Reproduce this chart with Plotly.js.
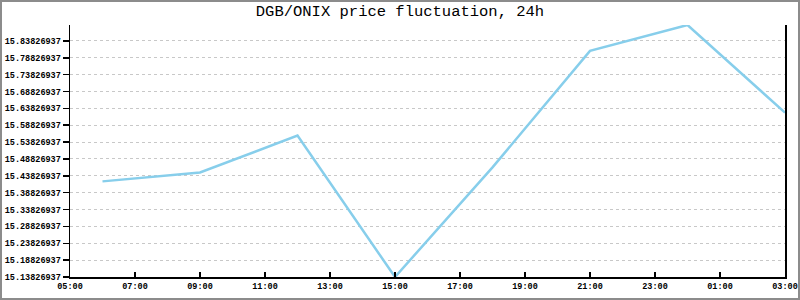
<!DOCTYPE html>
<html><head><meta charset="utf-8">
<script src="https://cdn.plot.ly/plotly-3.0.1.min.js"></script>
<style>
html,body{margin:0;padding:0;background:#fff;}
#chart{width:800px;height:300px;box-sizing:border-box;border:2px solid #8c8c8c;}
</style></head>
<body><div id="chart"></div>
<script>
const times = ['2024-01-01 06:00','2024-01-01 09:00','2024-01-01 12:00','2024-01-01 15:00','2024-01-01 18:00','2024-01-01 21:00','2024-01-02 00:00','2024-01-02 03:00'];
const prices = [15.4218, 15.4480, 15.5577, 15.13826937, 15.4632, 15.8087, 15.8855, 15.6256];
const titleText = 'DGB/ONIX price fluctuation, 24h';
const xRange = ['2024-01-01 05:00','2024-01-02 03:00'];
const yMin = 15.13826937, yStep = 0.05;

const trace = {x: times, y: prices, type: 'scatter', mode: 'lines',
  line: {color: '#87ceeb', width: 2.5}, hoverinfo: 'none'};
const mono = 'Liberation Mono, DejaVu Sans Mono, monospace';
const layout = {
  width: 796, height: 296,
  margin: {l: 68, r: 13, t: 23, b: 21},
  paper_bgcolor: '#fff', plot_bgcolor: '#fff',
  showlegend: false,
  title: {text: titleText, font: {family: mono, size: 15.5, color: '#000'}, x: 0.5, xanchor: 'center', y: 1, yanchor: 'top', yref: 'container', pad: {t: 3}},
  xaxis: {type: 'date', range: xRange, tickformat: '%H:%M', dtick: 7200000, tick0: '2024-01-01 05:00',
    showgrid: false, zeroline: false, showline: true, linecolor: '#000', linewidth: 1.5,
    ticks: 'inside', ticklen: 5, tickcolor: '#000', tickwidth: 1.5,
    tickfont: {family: mono, size: 8.5, color: '#000', weight: 'bold'}},
  yaxis: {range: [yMin, Math.max(...prices)], tick0: yMin, dtick: yStep, tickformat: '.8f',
    showgrid: true, gridcolor: '#c8c8c8', griddash: '3px,3px', gridwidth: 1,
    zeroline: false, showline: true, mirror: true, linecolor: '#000', linewidth: 1.5,
    ticks: 'outside', ticklen: 6, tickcolor: '#000', tickwidth: 1.5,
    tickfont: {family: mono, size: 8.5, color: '#000', weight: 'bold'}}
};
Plotly.newPlot('chart', [trace], layout, {staticPlot: true, displayModeBar: false});
</script></body></html>
